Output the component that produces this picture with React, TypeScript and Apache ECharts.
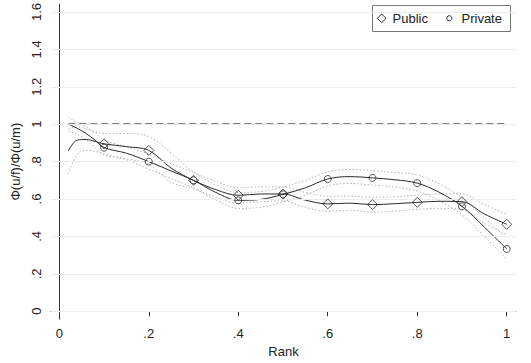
import { useEffect, useRef } from "react";
import * as echarts from "echarts";

// Rank grid at which the fitted curves and confidence bounds are evaluated
const rank = [0.02, 0.04, 0.06, 0.08, 0.1, 0.15, 0.2, 0.25, 0.3, 0.35, 0.4, 0.45, 0.5, 0.55, 0.6, 0.65, 0.7, 0.75, 0.8, 0.85, 0.9, 0.95, 1.0];

// Public sector: fitted ratio and dotted confidence bounds
const publicFit = [0.857, 0.915, 0.918, 0.908, 0.895, 0.88, 0.86, 0.765, 0.70, 0.65, 0.62, 0.627, 0.627, 0.594, 0.574, 0.578, 0.570, 0.575, 0.582, 0.588, 0.586, 0.52, 0.465];
const publicHi = [0.975, 0.985, 0.975, 0.96, 0.95, 0.95, 0.935, 0.845, 0.745, 0.695, 0.66, 0.665, 0.665, 0.635, 0.615, 0.615, 0.61, 0.612, 0.62, 0.628, 0.628, 0.57, 0.52];
const publicLo = [0.735, 0.84, 0.86, 0.855, 0.84, 0.815, 0.785, 0.69, 0.655, 0.61, 0.578, 0.586, 0.59, 0.555, 0.535, 0.54, 0.53, 0.535, 0.545, 0.55, 0.545, 0.47, 0.41];

// Private sector: fitted ratio and dotted confidence bounds
const privateFit = [1.0, 0.978, 0.95, 0.915, 0.875, 0.845, 0.80, 0.75, 0.70, 0.635, 0.593, 0.598, 0.625, 0.66, 0.707, 0.72, 0.713, 0.703, 0.685, 0.635, 0.561, 0.45, 0.333];
const privateHi = [1.035, 1.01, 0.985, 0.955, 0.915, 0.88, 0.84, 0.79, 0.74, 0.675, 0.635, 0.64, 0.665, 0.70, 0.745, 0.758, 0.752, 0.742, 0.728, 0.68, 0.605, 0.5, 0.39];
const privateLo = [0.965, 0.945, 0.915, 0.875, 0.835, 0.81, 0.76, 0.71, 0.66, 0.595, 0.55, 0.556, 0.585, 0.62, 0.67, 0.683, 0.675, 0.664, 0.642, 0.59, 0.515, 0.4, 0.28];

// Reference line at parity
const parityX = [0.02, 1.0];
const parityY = 1;

// Axis ticks
const xTicks = [0, 0.2, 0.4, 0.6, 0.8, 1];
const yTicks = [0, 0.2, 0.4, 0.6, 0.8, 1, 1.2, 1.4, 1.6];

const FONT = "'Liberation Sans', Arial, Helvetica, sans-serif";

// Stata-style numbers: ".2" instead of "0.2"
const fmt = (v: number) => {
  const s = String(Math.round(v * 10) / 10);
  return s.startsWith("0.") ? s.slice(1) : s;
};

const pairs = (ys: number[]) => rank.map((r, i) => [r, ys[i]]);
const deciles = (ys: number[]) =>
  rank
    .map((r, i) => [r, ys[i]])
    .filter(([r]) => r >= 0.1 - 1e-9 && Math.abs(r * 10 - Math.round(r * 10)) < 1e-9);

export default function App() {
  const ref = useRef<HTMLDivElement>(null);

  useEffect(() => {
    if (!ref.current) return;
    const chart = echarts.init(ref.current, undefined, { renderer: "svg" });

    const curveStyle = { color: "#2b2b2b", width: 1 };
    const bandStyle = { color: "#b4b4b4", width: 1, type: [1.5, 2] as number[] };

    const line = (name: string, ys: number[], style: any, z = 3) => ({
      name,
      type: "line",
      data: pairs(ys),
      smooth: 0.35,
      showSymbol: false,
      symbol: "none",
      lineStyle: style,
      silent: true,
      z,
    });

    const markers = (name: string, ys: number[], symbol: string, size: number) => ({
      name,
      type: "scatter",
      data: deciles(ys),
      symbol,
      symbolSize: size,
      itemStyle: { color: "rgba(255,255,255,0)", borderColor: "#2b2b2b", borderWidth: 1 },
      silent: true,
      z: 5,
    });

    chart.setOption({
      animation: false,
      backgroundColor: "#ffffff",
      textStyle: { fontFamily: FONT },
      grid: { left: 51, right: 15, top: 2, bottom: 42, containLabel: false },
      xAxis: {
        type: "value",
        min: -0.0186,
        max: 1.0208,
        name: "Rank",
        nameLocation: "middle",
        nameGap: 21,
        nameTextStyle: { fontSize: 13, color: "#222", fontFamily: FONT },
        axisLine: { show: true, lineStyle: { color: "#333", width: 1 } },
        axisTick: { show: true, length: 5, customValues: xTicks, lineStyle: { color: "#333" } },
        axisLabel: {
          customValues: xTicks,
          formatter: (v: number) => fmt(v),
          fontSize: 13,
          color: "#222",
          margin: 8,
          fontFamily: FONT,
        },
        splitLine: { show: false },
      },
      yAxis: {
        type: "value",
        min: -0.042,
        max: 1.6415,
        name: "Φ(u/f)/Φ(u/m)",
        nameLocation: "middle",
        nameGap: 26,
        nameTextStyle: { fontSize: 13, color: "#222", fontFamily: FONT },
        axisLine: { show: true, lineStyle: { color: "#333", width: 1 } },
        axisTick: { show: true, length: 5, customValues: yTicks, lineStyle: { color: "#333" } },
        axisLabel: {
          customValues: yTicks,
          formatter: (v: number) => fmt(v),
          rotate: 90,
          fontSize: 13,
          color: "#222",
          margin: 8,
          fontFamily: FONT,
        },
        splitLine: { show: false },
      },
      series: [
        {
          name: "grid",
          type: "line",
          data: [],
          silent: true,
          z: 0,
          markLine: {
            silent: true,
            symbol: "none",
            label: { show: false },
            lineStyle: { color: "#ececec", width: 1, type: "solid" },
            data: yTicks.map((v) => ({ yAxis: v })),
          },
        },
        {
          name: "parity",
          type: "line",
          data: parityX.map((x) => [x, parityY]),
          showSymbol: false,
          symbol: "none",
          lineStyle: { color: "#000", width: 1.3, type: [7, 4] },
          silent: true,
          z: 4,
        },
        line("Public upper", publicHi, bandStyle, 2),
        line("Public lower", publicLo, bandStyle, 2),
        line("Private upper", privateHi, bandStyle, 2),
        line("Private lower", privateLo, bandStyle, 2),
        line("Public fit", publicFit, curveStyle),
        line("Private fit", privateFit, curveStyle),
        markers("Public", publicFit, "diamond", 10),
        markers("Private", privateFit, "circle", 7),
      ],
      graphic: [
        {
          type: "group",
          left: 372,
          top: 5,
          children: [
            {
              type: "rect",
              shape: { x: 0.5, y: 0.5, width: 138, height: 26 },
              style: { fill: "#fff", stroke: "#777", lineWidth: 1 },
            },
            {
              type: "polygon",
              shape: { points: [[9.7, 9], [14, 13.3], [9.7, 17.6], [5.4, 13.3]] },
              style: { fill: "none", stroke: "#2b2b2b", lineWidth: 1 },
            },
            {
              type: "text",
              x: 20.5,
              y: 13.5,
              style: { text: "Public", fontSize: 13, fill: "#222", fontFamily: FONT, verticalAlign: "middle" },
            },
            {
              type: "circle",
              shape: { cx: 77.3, cy: 13.3, r: 2.6 },
              style: { fill: "none", stroke: "#2b2b2b", lineWidth: 1 },
            },
            {
              type: "text",
              x: 89.5,
              y: 13.5,
              style: { text: "Private", fontSize: 13, fill: "#222", fontFamily: FONT, verticalAlign: "middle" },
            },
          ],
        },
      ],
    });

    return () => chart.dispose();
  }, []);

  return <div ref={ref} style={{ width: 531, height: 363, position: "absolute", left: 0, top: 0 }} />;
}
